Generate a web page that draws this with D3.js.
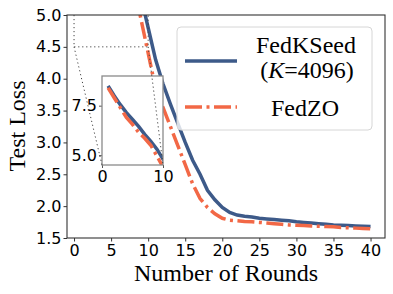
<!DOCTYPE html>
<html><head><meta charset="utf-8">
<script src="https://cdn.jsdelivr.net/npm/d3@7"></script>
<style>html,body{margin:0;padding:0;background:#fff;}svg{display:block;}</style>
</head><body>
<svg id="c" width="393" height="294"></svg>
<script>
const rounds = d3.range(1, 41);
const fedKSeed = [8.5,8.0,7.55,7.15,6.8,6.45,6.05,5.7,5.3,4.8,
  4.3,3.92,3.6,3.3,3.0,2.72,2.5,2.25,2.1,1.98,
  1.9,1.86,1.84,1.83,1.81,1.8,1.79,1.78,1.77,1.755,
  1.745,1.735,1.725,1.715,1.705,1.7,1.695,1.69,1.685,1.68];
const fedZO = [8.4,7.9,7.4,6.9,6.55,6.15,5.85,5.5,4.95,4.4,
  3.85,3.55,3.25,2.95,2.65,2.35,2.12,1.98,1.88,1.81,
  1.78,1.77,1.76,1.755,1.745,1.735,1.725,1.715,1.705,1.7,
  1.695,1.69,1.685,1.68,1.675,1.665,1.66,1.655,1.65,1.645];
const xTicks = [0,5,10,15,20,25,30,35,40];
const yTicks = [1.5,2.0,2.5,3.0,3.5,4.0,4.5,5.0];
const insetXTicks = [0,10];
const insetYTicks = [5.0,7.5];
const seriesNames = ["FedKSeed", "FedZO"];

const BLUE = "#3d5a89", ORANGE = "#f26846";
const svg = d3.select("#c");
const L=67,R=385,T=15,B=238;
const x = d3.scaleLinear().domain([-0.95,41.95]).range([L,R]);
const y = d3.scaleLinear().domain([1.5,5.0]).range([B,T]);
const tickFont = "'DejaVu Sans', sans-serif";
const serif = "'Liberation Serif','Times New Roman',serif";

svg.append("defs").append("clipPath").attr("id","mc").append("rect")
  .attr("x",L).attr("y",T).attr("width",R-L).attr("height",B-T);

const mainData = rounds.map((r,i)=>({r, a:fedKSeed[i], b:fedZO[i]}));
const lineA = d3.line().x(d=>x(d.r)).y(d=>y(d.a));
const lineB = d3.line().x(d=>x(d.r)).y(d=>y(d.b));
const gm = svg.append("g").attr("clip-path","url(#mc)");
gm.append("path").datum(mainData).attr("d",lineA).attr("fill","none")
  .attr("stroke",BLUE).attr("stroke-width",3.5);
gm.append("path").datum(mainData).attr("d",lineB).attr("fill","none")
  .attr("stroke",ORANGE).attr("stroke-width",3.5).attr("stroke-dasharray","17,4.5,3,4.5");

// zoom rectangle marker
const dot = "1.2,2.8", dotCol = "#444";
gm.append("path").attr("d",`M${x(0)},${T}V${y(4.5)}H${x(10)}V${T}`)
  .attr("fill","none").attr("stroke",dotCol).attr("stroke-width",1).attr("stroke-dasharray",dot);

// axes
const xa = svg.append("g").attr("transform",`translate(0,${B})`)
  .call(d3.axisBottom(x).tickValues(xTicks).tickSize(3.5).tickPadding(3).tickFormat(d3.format("d")));
const ya = svg.append("g").attr("transform",`translate(${L},0)`)
  .call(d3.axisLeft(y).tickValues(yTicks).tickSize(3.5).tickPadding(2).tickFormat(d3.format(".1f")));
[xa,ya].forEach(g=>{g.select(".domain").remove();
  g.selectAll("text").attr("font-family",tickFont).attr("font-size",16).attr("fill","#000");
  g.selectAll("line").attr("stroke","#333");});
svg.append("rect").attr("x",L).attr("y",T).attr("width",R-L).attr("height",B-T)
  .attr("fill","none").attr("stroke","#333").attr("stroke-width",1.1);

// inset
const IL=102,IR=163,IT=76,IB=165;
const xi = d3.scaleLinear().domain([0,10]).range([IL,IR]);
const yi = d3.scaleLinear().domain([4.5,9.0]).range([IB,IT]);
svg.select("defs").append("clipPath").attr("id","ic").append("rect")
  .attr("x",IL).attr("y",IT).attr("width",IR-IL).attr("height",IB-IT);
svg.append("rect").attr("x",IL).attr("y",IT).attr("width",IR-IL).attr("height",IB-IT).attr("fill","#fff");
const gi = svg.append("g").attr("clip-path","url(#ic)");
gi.append("path").datum(mainData).attr("d",d3.line().x(d=>xi(d.r)).y(d=>yi(d.a)))
  .attr("fill","none").attr("stroke",BLUE).attr("stroke-width",3.5);
gi.append("path").datum(mainData).attr("d",d3.line().x(d=>xi(d.r)).y(d=>yi(d.b)))
  .attr("fill","none").attr("stroke",ORANGE).attr("stroke-width",3.5).attr("stroke-dasharray","17,4.5,3,4.5");
const xia = svg.append("g").attr("transform",`translate(0,${IB})`)
  .call(d3.axisBottom(xi).tickValues(insetXTicks).tickSize(3).tickPadding(3).tickFormat(d3.format("d")));
const yia = svg.append("g").attr("transform",`translate(${IL},0)`)
  .call(d3.axisLeft(yi).tickValues(insetYTicks).tickSize(3).tickPadding(2).tickFormat(d3.format(".1f")));
[xia,yia].forEach(g=>{g.select(".domain").remove();
  g.selectAll("text").attr("font-family",tickFont).attr("font-size",16).attr("fill","#000");
  g.selectAll("line").attr("stroke","#555");});
svg.append("rect").attr("x",IL).attr("y",IT).attr("width",IR-IL).attr("height",IB-IT)
  .attr("fill","none").attr("stroke","#8a8a8a").attr("stroke-width",1.3);

// connectors
svg.append("path").attr("d",`M${x(0)},${y(4.5)}L${IL},${IB}M${x(10)},${y(4.5)}L${IR},${IB}`)
  .attr("fill","none").attr("stroke",dotCol).attr("stroke-width",1).attr("stroke-dasharray",dot);

// labels
svg.append("text").attr("x",(L+R)/2).attr("y",281).attr("text-anchor","middle")
  .attr("font-family",serif).attr("font-size",24).text("Number of Rounds");
svg.append("text").attr("transform","translate(25,126) rotate(-90)").attr("text-anchor","middle")
  .attr("font-family",serif).attr("font-size",24).text("Test Loss");

// legend
const lg = svg.append("g");
lg.append("rect").attr("x",177).attr("y",27).attr("width",195).attr("height",103).attr("rx",4)
  .attr("fill","#fff").attr("fill-opacity",0.8).attr("stroke","#d6d6d6").attr("stroke-width",1);
lg.append("line").attr("x1",185).attr("x2",237).attr("y1",61).attr("y2",61)
  .attr("stroke",BLUE).attr("stroke-width",3.5);
lg.append("line").attr("x1",185).attr("x2",237).attr("y1",107).attr("y2",107)
  .attr("stroke",ORANGE).attr("stroke-width",3.5).attr("stroke-dasharray","17,4.5,3,4.5");
lg.append("text").attr("x",306).attr("y",53).attr("text-anchor","middle")
  .attr("font-family",serif).attr("font-size",24).text(seriesNames[0]);
const t2 = lg.append("text").attr("x",307).attr("y",78).attr("text-anchor","middle")
  .attr("font-family",serif).attr("font-size",24);
t2.append("tspan").text("(");
t2.append("tspan").attr("font-style","italic").text("K");
t2.append("tspan").text("=4096)");
lg.append("text").attr("x",305).attr("y",116).attr("text-anchor","middle")
  .attr("font-family",serif).attr("font-size",24).text(seriesNames[1]);
</script>
</body></html>
